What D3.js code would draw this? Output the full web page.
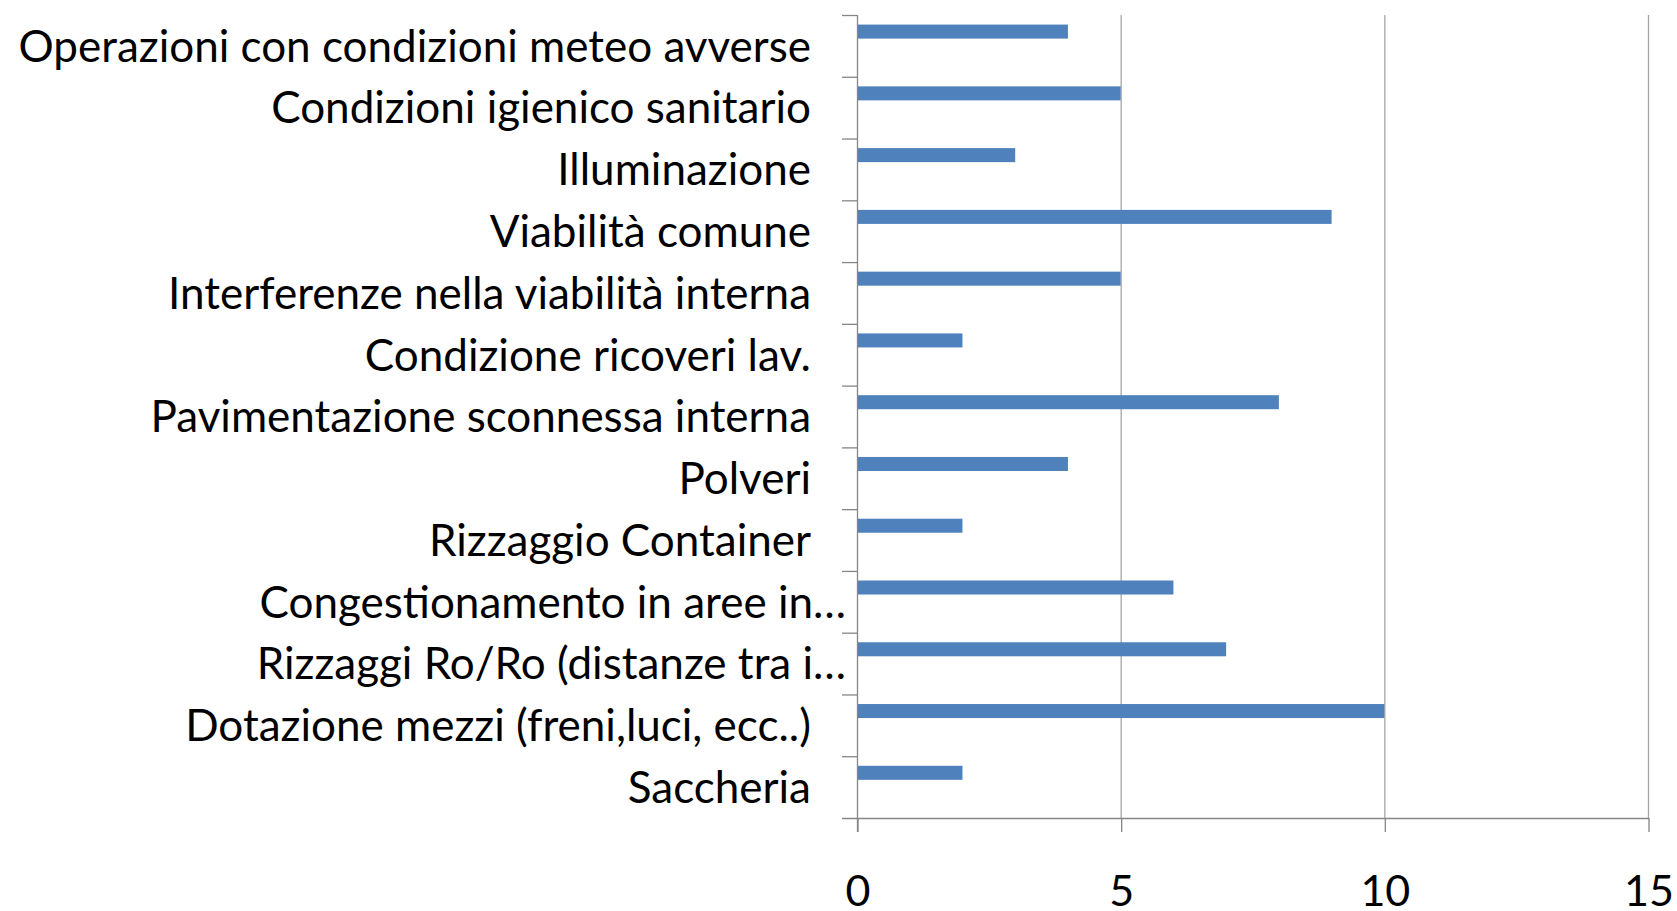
<!DOCTYPE html>
<html>
<head>
<meta charset="utf-8">
<script src="https://cdn.jsdelivr.net/npm/d3@7"></script>
<style>
  body { margin: 0; background: #fff; }
  text { font-family: Lato, "Open Sans", sans-serif; fill: #000; }
</style>
</head>
<body>
<div id="chart"></div>
<script>
// categories, top to bottom as drawn
const categories = [
    "Operazioni con condizioni meteo avverse",
    "Condizioni igienico sanitario",
    "Illuminazione",
    "Viabilità comune",
    "Interferenze nella viabilità interna",
    "Condizione ricoveri lav.",
    "Pavimentazione sconnessa interna",
    "Polveri",
    "Rizzaggio Container",
    "Congestionamento in aree in…",
    "Rizzaggi Ro/Ro (distanze tra i…",
    "Dotazione mezzi (freni,luci, ecc..)",
    "Saccheria"
];
const values = [4, 5, 3, 9, 5, 2, 8, 4, 2, 6, 7, 10, 2];
const xTicks = [0, 5, 10, 15];

const width = 1677, height = 911;
const plotLeft = 857, plotRight = 1648, plotTop = 15, plotBottom = 818;

const svg = d3.select("#chart")
    .append("svg")
    .attr("width", width)
    .attr("height", height)
    .style("background", "#ffffff");

const x = d3.scaleLinear().domain([0, 15]).range([plotLeft, plotRight]);
const y = d3.scaleBand().domain(categories).range([plotTop, plotBottom]);

// griglia verticale
svg.selectAll("line.grid")
    .data(xTicks.filter(t => t > 0))
    .enter()
    .append("line")
    .attr("class", "grid")
    .attr("x1", d => x(d) + 0.5)
    .attr("x2", d => x(d) + 0.5)
    .attr("y1", plotTop)
    .attr("y2", plotBottom)
    .attr("stroke", "#a6a6a6")
    .attr("stroke-width", 1.3);

// barre
svg.selectAll("rect.bar")
    .data(values)
    .enter()
    .append("rect")
    .attr("class", "bar")
    .attr("x", x(0))
    .attr("y", (d, i) => y(categories[i]) + y.bandwidth() * 0.155)
    .attr("width", d => x(d) - x(0))
    .attr("height", y.bandwidth() * 0.227)
    .attr("fill", "#4f81bd");

// asse x
const xAxis = d3.axisBottom(x).tickValues(xTicks).tickSize(14).tickFormat(d3.format("d"));
const gx = svg.append("g")
    .attr("transform", `translate(0.5,${plotBottom})`)
    .call(xAxis);
gx.select(".domain").remove();
gx.selectAll(".tick line").attr("stroke", "#868686").attr("stroke-width", 1.3);
gx.selectAll(".tick text")
    .attr("y", 73)
    .attr("dy", "0.36em")
    .attr("font-size", "43px")
    .attr("fill", "#000");

svg.append("line")
    .attr("x1", plotLeft - 15)
    .attr("x2", plotRight + 1)
    .attr("y1", plotBottom + 0.5)
    .attr("y2", plotBottom + 0.5)
    .attr("stroke", "#868686")
    .attr("stroke-width", 1.3);

// asse y
const boundaries = categories.map(c => y(c));
svg.selectAll("line.ytick")
    .data(boundaries)
    .enter()
    .append("line")
    .attr("class", "ytick")
    .attr("x1", plotLeft - 15)
    .attr("x2", plotLeft)
    .attr("y1", d => d + 0.5)
    .attr("y2", d => d + 0.5)
    .attr("stroke", "#868686")
    .attr("stroke-width", 1.3);

svg.append("line")
    .attr("x1", plotLeft + 0.5)
    .attr("x2", plotLeft + 0.5)
    .attr("y1", plotTop)
    .attr("y2", plotBottom + 14)
    .attr("stroke", "#868686")
    .attr("stroke-width", 1.3);

// etichette categorie (quelle troncate sporgono verso l'asse)
svg.selectAll("text.cat")
    .data(categories)
    .enter()
    .append("text")
    .attr("class", "cat")
    .attr("x", d => d.endsWith("…") ? plotLeft - 11 : plotLeft - 46)
    .attr("y", d => y(d) + y.bandwidth() / 2)
    .attr("dy", "0.36em")
    .attr("text-anchor", "end")
    .attr("font-size", "44px")
    .text(d => d);
</script>
</body>
</html>
